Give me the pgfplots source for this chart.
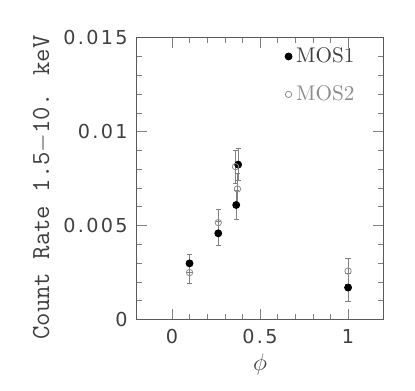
\documentclass[border=0pt]{standalone}
\usepackage{pgfplots}
\pgfplotsset{compat=1.18}
\usepackage{fontspec}
\newfontfamily\ticksf[LetterSpace=12]{DejaVu Sans}
\definecolor{txt}{gray}{0.25}
\definecolor{mos2}{gray}{0.55}
\begin{document}
\begin{tikzpicture}
\begin{axis}[
    at={(0,0)}, anchor=south west,
    scale only axis, width=123.3pt, height=140.8pt,
    xmin=-0.2, xmax=1.2, ymin=0, ymax=0.015,
    xtick={0,0.5,1}, ytick={0,0.005,0.01,0.015},
    minor x tick num=4, minor y tick num=4,
    major tick length=5pt, minor tick length=2.5pt,
    tick style={gray}, axis line style={gray!70!black},
    scaled y ticks=false,
    ticklabel style={font=\ticksf\fontsize{9.6}{11}\selectfont, text=txt},
    yticklabel style={/pgf/number format/fixed, /pgf/number format/precision=3, xshift=-1pt},
    xticklabel style={yshift=-4pt, inner sep=1pt},
    /pgf/number format/assume math mode=true,
    xlabel={$\phi$}, ylabel={Count Rate 1.5$-$10. keV},
    xlabel style={at={(rel axis cs:0.5,-0.162)}, anchor=center, inner sep=0pt,
        font=\fontsize{13}{15}\selectfont, text=txt},
    ylabel style={at={(rel axis cs:-0.384,0.468)}, anchor=center,
        font=\ttfamily\fontsize{13}{15}\selectfont, text=txt},
    legend style={draw=none, fill=none, at={(rel axis cs:0.6,0.866)}, anchor=west,
        row sep=6pt, font=\fontsize{10.6}{12}\selectfont, inner sep=0pt},
    legend cell align=left,
    legend image code/.code={\draw[#1] plot[only marks] coordinates {(0.05cm,0cm)};},
]
\addplot[only marks, mark=*, mark size=1.75pt, black,
    error bars/.cd, y dir=both, y explicit,
    error bar style={gray, line width=0.5pt},
    error mark options={rotate=90, mark size=1.3pt, gray}]
  coordinates {
    (0.100,0.00298) +- (0,0.00050)
    (0.263,0.00458) +- (0,0.00062)
    (0.365,0.00609) +- (0,0.00076)
    (0.376,0.00824) +- (0,0.00085)
    (1.000,0.00169) +- (0,0.00075)
  };
\addlegendentry{\textcolor{txt}{MOS1}}
\addplot[only marks, mark=o, mark size=1.6pt, mos2,
    error bars/.cd, y dir=both, y explicit,
    error bar style={gray, line width=0.5pt},
    error mark options={rotate=90, mark size=1.3pt, gray}]
  coordinates {
    (0.100,0.00249) +- (0,0.00057)
    (0.263,0.00515) +- (0,0.00070)
    (0.361,0.00813) +- (0,0.00087)
    (0.372,0.00694) +- (0,0.00085)
    (1.000,0.00257) +- (0,0.00070)
  };
\addlegendentry{\textcolor{mos2}{MOS2}}
\end{axis}
\pgfresetboundingbox
\path (-68.35pt,-35.35pt) rectangle (139.15pt,159.65pt);
\end{tikzpicture}
\end{document}
